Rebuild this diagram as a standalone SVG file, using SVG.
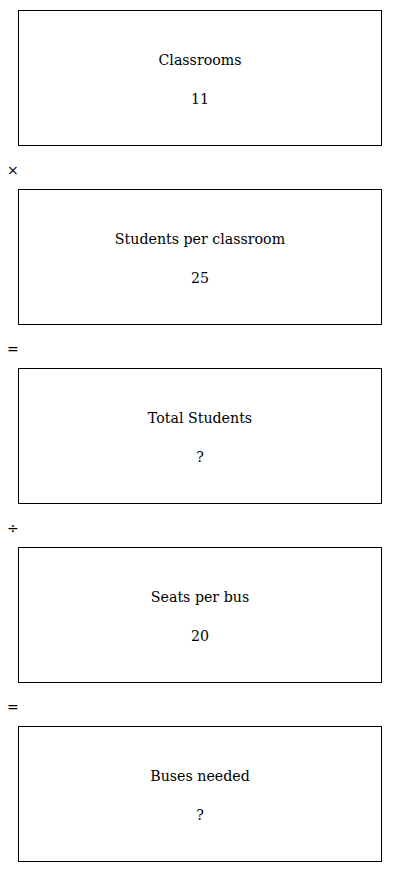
<svg xmlns="http://www.w3.org/2000/svg" width="400" height="872" viewBox="0 0 400 872">
<style>
.box{fill:#fff;stroke:#000;stroke-width:1}
.t{font-family:"DejaVu Serif","Liberation Serif",serif;font-size:14.2px;text-anchor:middle;fill:#000}
.op{font-family:"DejaVu Sans","Liberation Sans",sans-serif;font-size:14px;fill:#000}
</style>
<rect width="400" height="872" fill="#fff"/>
<g id="n1"><rect class="box" x="18.5" y="10.5" width="363" height="135"/><text class="t" x="200" y="65">Classrooms</text><text class="t" x="200" y="104">11</text></g>
<g id="n2"><rect class="box" x="18.5" y="189.5" width="363" height="135"/><text class="t" x="200" y="244">Students per classroom</text><text class="t" x="200" y="283">25</text></g>
<g id="n3"><rect class="box" x="18.5" y="368.5" width="363" height="135"/><text class="t" x="200" y="423">Total Students</text><text class="t" x="200" y="462">?</text></g>
<g id="n4"><rect class="box" x="18.5" y="547.5" width="363" height="135"/><text class="t" x="200" y="602">Seats per bus</text><text class="t" x="200" y="641">20</text></g>
<g id="n5"><rect class="box" x="18.5" y="726.5" width="363" height="135"/><text class="t" x="200" y="781">Buses needed</text><text class="t" x="200" y="820">?</text></g>
<g id="connectors">
<text class="op" x="7" y="175">×</text>
<text class="op" x="7" y="354">=</text>
<text class="op" x="7" y="533">÷</text>
<text class="op" x="7" y="712">=</text>
</g>
</svg>
